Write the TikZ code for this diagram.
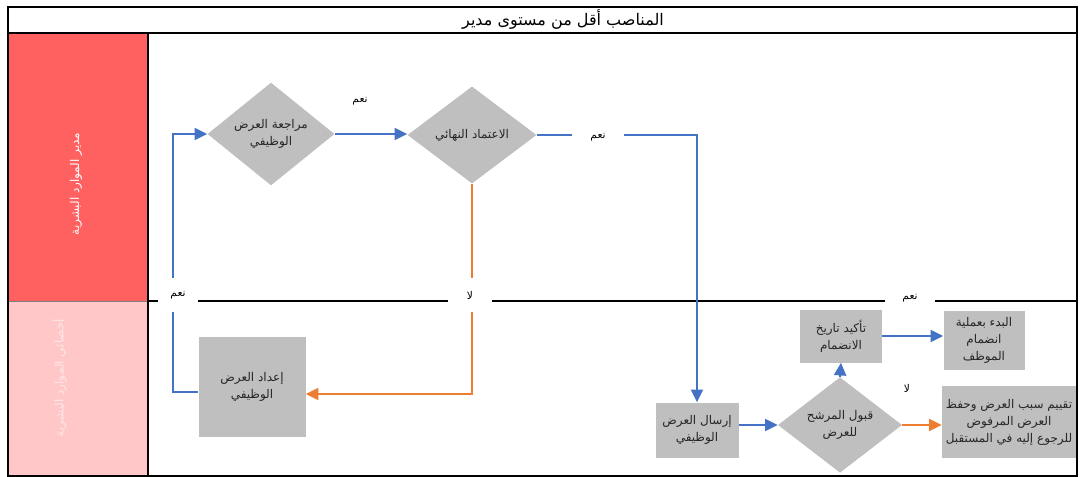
\documentclass[tikz,border=0pt]{standalone}
\usepackage{fontspec}
\setmainfont{DejaVu Sans}
\newfontfamily\arabicfont[Script=Arabic]{DejaVu Sans}
\TeXXeTstate=1
\usetikzlibrary{shapes.geometric,arrows.meta}
\newcommand\ar[1]{{\arabicfont\beginR #1\endR}}
\definecolor{lanered}{HTML}{FF6161}
\definecolor{lanepink}{HTML}{FFC7C7}
\definecolor{boxgray}{HTML}{BFBFBF}
\definecolor{flowblue}{HTML}{4472C4}
\definecolor{floworange}{HTML}{ED7D31}
\definecolor{nodetext}{HTML}{262626}
\definecolor{palelabel}{HTML}{FFE6E6}
\tikzset{
  procbox/.style={fill=boxgray, inner sep=1pt, align=center, text=nodetext,
    font=\fontsize{9}{12.75}\selectfont},
  decbox/.style={diamond, fill=boxgray, inner sep=0pt, align=center, text=nodetext,
    font=\fontsize{9}{12.75}\selectfont},
  blueline/.style={draw=flowblue, line width=1.5pt},
  orangeline/.style={draw=floworange, line width=1.5pt},
  tip/.style={-{Triangle[length=9.5pt,width=9pt]}},
  flowlabel/.style={font=\fontsize{8}{9}\selectfont, inner sep=0pt},
  gaplabel/.style={flowlabel, fill=white},
  frameline/.style={draw=black, line width=1.1pt},
}
\begin{document}
\begin{tikzpicture}[x=0.75pt,y=-0.75pt]
\useasboundingbox (0,0) rectangle (1080,477);
% lanes
\fill[lanered] (8,33) rectangle (148,301);
\fill[lanepink] (8,301) rectangle (148,476);
\draw[gray, line width=0.5pt] (8,301) -- (148,301);
\draw[frameline] (8,7) rectangle (1077,476);
\draw[frameline] (8,33) -- (1077,33);
\draw[frameline] (148,33) -- (148,476);
\draw[frameline] (148,301) -- (1077,301);
\node[font=\fontsize{12}{14}\selectfont] (title) at (563,19) {\ar{المناصب أقل من مستوى مدير}};
\node[rotate=90, text=white, font=\fontsize{9}{11}\selectfont] (lane1) at (76,184) {\ar{مدير الموارد البشرية}};
\node[rotate=90, text=palelabel, font=\fontsize{9}{11}\selectfont] (lane2) at (59,378) {\ar{أخصائي الموارد البشرية}};
% nodes
\node[decbox, minimum width=95.25pt, minimum height=75.75pt] (d1) at (271,134) {\ar{مراجعة العرض}\\\ar{الوظيفي}};
\node[decbox, minimum width=96.75pt, minimum height=72.75pt] (d2) at (472,135) {\ar{الاعتماد النهائي}};
\node[procbox, minimum width=80.25pt, minimum height=75pt] (b1) at (252,387) {\ar{إعداد العرض}\\\ar{الوظيفي}};
\node[procbox, minimum width=62.25pt, minimum height=41.25pt] (b2) at (697,430) {\ar{إرسال العرض}\\\ar{الوظيفي}};
\node[decbox, minimum width=93pt, minimum height=63.75pt] (d3) at (840,425) {\ar{قبول المرشح}\\\ar{للعرض}};
\node[procbox, minimum width=61.5pt, minimum height=39.75pt] (b3) at (841,336) {\ar{تأكيد تاريخ}\\\ar{الانضمام}};
\node[procbox, minimum width=60.75pt, minimum height=44.25pt] (b4) at (984,340) {\ar{البدء بعملية}\\\ar{انضمام}\\\ar{الموظف}};
\node[procbox, minimum width=100.5pt, minimum height=54pt] (b5) at (1009,422) {\ar{تقييم سبب العرض وحفظ}\\\ar{العرض المرفوض}\\\ar{للرجوع إليه في المستقبل}};
\coordinate (lp) at (173,0);
% connectors
\draw[blueline, tip] ([yshift=-3.75pt]b1.west) -| (lp |- d1.west) -- (d1.west);
\draw[blueline, tip] (d1.east) -- (d1.east -| d2.west);
\draw[orangeline, tip] (d2.south) |- ([yshift=-5.25pt]b1.east);
\draw[blueline, tip] (d2.east) -| (b2.north);
\draw[blueline, tip] (b2.east |- d3.west) -- (d3.west);
\draw[blueline, tip] (d3.north) -- (b3.south);
\draw[blueline, tip] (b3.east) -- (b3.east -| b4.west);
\draw[orangeline, tip] (d3.east) -- (d3.east -| b5.west);
% labels
\node[flowlabel] (l1) at (360,101) {\ar{نعم}};
\node[gaplabel, minimum width=39pt, minimum height=9pt] (l2) at (598,137) {\ar{نعم}};
\node[gaplabel, minimum width=30pt, minimum height=26pt] (l3) at (178,295) {\ar{نعم}};
\node[gaplabel, minimum width=33pt, minimum height=26pt] (l4) at (470,295) {\ar{لا}};
\node[gaplabel, minimum width=37.5pt, minimum height=8pt] (l5) at (910,298) {\ar{نعم}};
\node[flowlabel] (l6) at (907,388) {\ar{لا}};
\end{tikzpicture}
\end{document}
